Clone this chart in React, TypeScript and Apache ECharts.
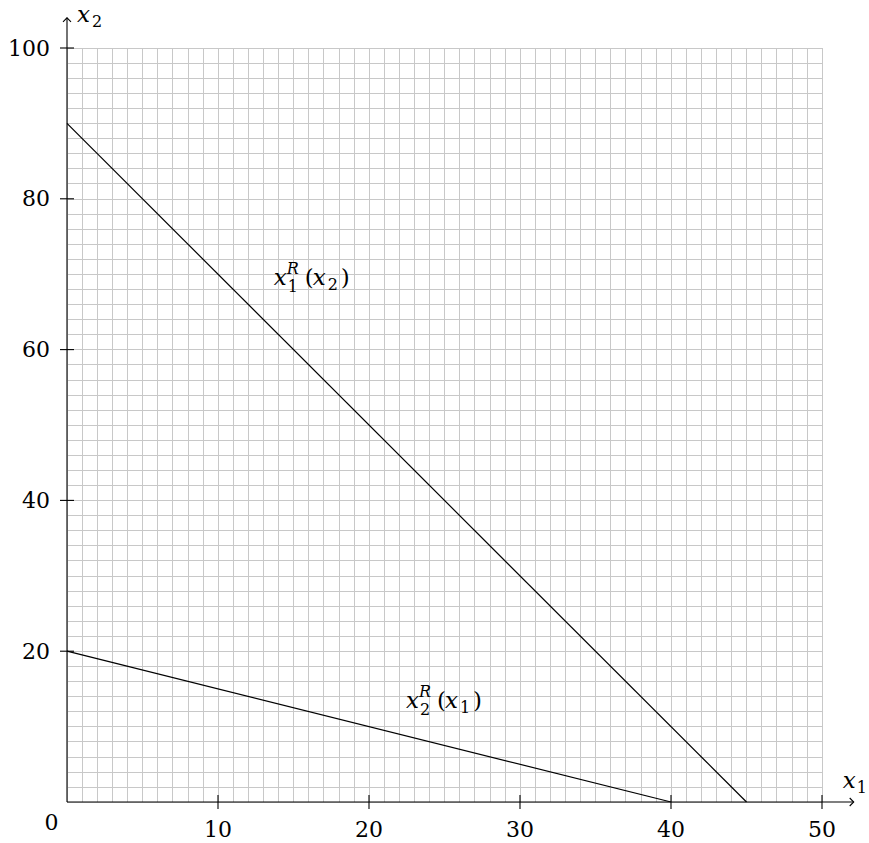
import React, { useEffect, useRef } from "react";
import * as echarts from "echarts";

// Axis extents and labelled ticks
const X_MAX = 50;
const Y_MAX = 100;
const X_TICKS = [10, 20, 30, 40, 50];
const Y_TICKS = [20, 40, 60, 80, 100];
// Where the axis arrows end (data units, past the grid)
const X_ARROW_END = 52.1;
const Y_ARROW_END = 104;

// Best-response lines
const responseX1 = [
  [0, 90],
  [45, 0],
];
const responseX2 = [
  [0, 20],
  [40, 0],
];

// Curve labels: anchor (data coords of the first glyph's baseline-left), own index, argument index
const labelAnchors = [
  [13.7, 68.6],
  [22.45, 12.5],
];
const labelOwnIndex = ["1", "2"];
const labelArgIndex = ["2", "1"];

const FONT = "DejaVu Serif";
const GRID_COLOR = "#c8c8c8";
const TICK_SIZE = 22;
const MAIN = 23;
const SMALL = 16;
const CENTRAL = 0.346; // central baseline height above the alphabetic baseline, in em

type Piece = { t: string; dx: number; dy: number; size: number; italic?: boolean };

// Lay out a small formula from glyph pieces positioned relative to a baseline anchor
function formula(ax: number, ay: number, pieces: Piece[]) {
  return pieces.map((p) => ({
    type: "text",
    x: ax + p.dx,
    y: ay + p.dy - CENTRAL * p.size,
    style: {
      text: p.t,
      fill: "#000",
      fontFamily: FONT,
      fontSize: p.size,
      fontStyle: p.italic ? "italic" : "normal",
      align: "left",
      textAlign: "left",
      verticalAlign: "middle",
      textVerticalAlign: "middle",
    },
  }));
}

function renderAxes(_params: any, api: any) {
  const o = api.coord([0, 0]);
  const xe = api.coord([X_ARROW_END, 0]);
  const ye = api.coord([0, Y_ARROW_END]);
  const stroke = { stroke: "#000", lineWidth: 1.1, fill: "none" };
  const children: any[] = [
    { type: "line", shape: { x1: o[0], y1: o[1], x2: xe[0], y2: xe[1] }, style: stroke },
    { type: "line", shape: { x1: o[0], y1: o[1], x2: ye[0], y2: ye[1] }, style: stroke },
    {
      type: "polyline",
      shape: { points: [[xe[0] - 4, xe[1] - 4], [xe[0], xe[1]], [xe[0] - 4, xe[1] + 4]] },
      style: stroke,
    },
    {
      type: "polyline",
      shape: { points: [[ye[0] - 4, ye[1] + 4], [ye[0], ye[1]], [ye[0] + 4, ye[1] + 4]] },
      style: stroke,
    },
  ];
  X_TICKS.forEach((v) => {
    const p = api.coord([v, 0]);
    children.push({
      type: "line",
      shape: { x1: p[0], y1: p[1] - 7, x2: p[0], y2: p[1] + 7 },
      style: stroke,
    });
  });
  Y_TICKS.forEach((v) => {
    const p = api.coord([0, v]);
    children.push({
      type: "line",
      shape: { x1: p[0] - 7, y1: p[1], x2: p[0] + 7, y2: p[1] },
      style: stroke,
    });
  });
  // origin label
  children.push({
    type: "text",
    x: o[0] - 15.5,
    y: o[1] + 20,
    style: {
      text: "0",
      fill: "#000",
      fontFamily: FONT,
      fontSize: TICK_SIZE,
      align: "center",
      textAlign: "center",
      verticalAlign: "middle",
      textVerticalAlign: "middle",
    },
  });
  // axis names
  children.push(
    ...formula(ye[0] + 10, ye[1] + 4, [
      { t: "x", dx: 0, dy: 0, size: MAIN, italic: true },
      { t: "2", dx: 15, dy: 5, size: SMALL },
    ]),
    ...formula(xe[0] - 11, xe[1] - 14, [
      { t: "x", dx: 0, dy: 0, size: MAIN, italic: true },
      { t: "1", dx: 14, dy: 5, size: SMALL },
    ])
  );
  return { type: "group", children };
}

function renderCurveLabel(params: any, api: any) {
  const i = params.dataIndex;
  const p = api.coord([api.value(0), api.value(1)]);
  const pieces: Piece[] = [
    { t: "x", dx: 0, dy: 0, size: MAIN, italic: true },
    { t: "R", dx: 13, dy: -11, size: SMALL, italic: true },
    { t: labelOwnIndex[i], dx: 14, dy: 7, size: SMALL },
    { t: "(", dx: 31, dy: 0, size: MAIN },
    { t: "x", dx: 39, dy: 0, size: MAIN, italic: true },
    { t: labelArgIndex[i], dx: 54, dy: 5, size: SMALL },
    { t: ")", dx: 67, dy: 0, size: MAIN },
  ];
  return { type: "group", children: formula(p[0], p[1], pieces) };
}

export default function App() {
  const ref = useRef<HTMLDivElement>(null);

  useEffect(() => {
    if (!ref.current) return;
    const chart = echarts.init(ref.current, undefined, { renderer: "svg" });
    const gridAxisCommon = {
      type: "value" as const,
      axisLine: { show: false },
      axisTick: { show: false },
      splitLine: { show: true, lineStyle: { color: GRID_COLOR, width: 1 } },
      minorTick: { show: false, splitNumber: 10 },
      minorSplitLine: { show: true, lineStyle: { color: GRID_COLOR, width: 1 } },
    };
    chart.setOption({
      animation: false,
      backgroundColor: "#fff",
      grid: { left: 67, top: 48, right: 47, bottom: 41, containLabel: false },
      xAxis: {
        ...gridAxisCommon,
        min: 0,
        max: X_MAX,
        interval: 10,
        axisLabel: {
          showMinLabel: false,
          fontFamily: FONT,
          fontSize: TICK_SIZE,
          color: "#000",
          margin: 16,
        },
      },
      yAxis: {
        ...gridAxisCommon,
        min: 0,
        max: Y_MAX,
        interval: 20,
        axisLabel: {
          showMinLabel: false,
          fontFamily: FONT,
          fontSize: TICK_SIZE,
          color: "#000",
          margin: 17,
        },
      },
      series: [
        {
          name: "x1R",
          type: "line",
          data: responseX1,
          symbol: "none",
          lineStyle: { color: "#000", width: 1.2 },
          silent: true,
          z: 3,
        },
        {
          name: "x2R",
          type: "line",
          data: responseX2,
          symbol: "none",
          lineStyle: { color: "#000", width: 1.2 },
          silent: true,
          z: 3,
        },
        {
          name: "axes",
          type: "custom",
          data: [[0, 0]],
          renderItem: renderAxes,
          clip: false,
          silent: true,
          z: 4,
        },
        {
          name: "labels",
          type: "custom",
          data: labelAnchors,
          renderItem: renderCurveLabel,
          clip: false,
          silent: true,
          z: 5,
        },
      ],
    });
    return () => chart.dispose();
  }, []);

  return (
    <div
      ref={ref}
      style={{ position: "fixed", left: 0, top: 0, width: 869, height: 843, background: "#fff" }}
    />
  );
}
